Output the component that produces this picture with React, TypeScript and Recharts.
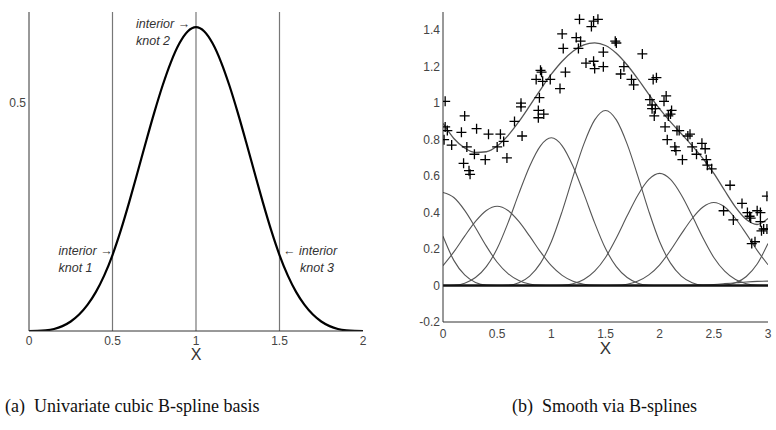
import React from 'react';
import { ComposedChart, Line, XAxis, YAxis, ReferenceLine, Scatter } from 'recharts';

const FONT = '"Liberation Sans", Arial, Helvetica, sans-serif';
const SERIF = '"Liberation Serif", "DejaVu Serif", "Times New Roman", Times, serif';

// ---------- panel (a): univariate cubic B-spline basis ----------
const basisX = [0, 0.05, 0.1, 0.15, 0.2, 0.25, 0.3, 0.35, 0.4, 0.45, 0.5, 0.55, 0.6, 0.65, 0.7, 0.75, 0.8, 0.85, 0.9, 0.95, 1.0,
  1.05, 1.1, 1.15, 1.2, 1.25, 1.3, 1.35, 1.4, 1.45, 1.5, 1.55, 1.6, 1.65, 1.7, 1.75, 1.8, 1.85, 1.9, 1.95, 2.0];
const basisY = [0, 0.0002, 0.0013, 0.0045, 0.0107, 0.0208, 0.036, 0.0572, 0.0853, 0.1215, 0.1667, 0.2212, 0.2827, 0.3482, 0.4147, 0.4792, 0.5387, 0.5902, 0.6307, 0.6572, 0.6667,
  0.6572, 0.6307, 0.5902, 0.5387, 0.4792, 0.4147, 0.3482, 0.2827, 0.2212, 0.1667, 0.1215, 0.0853, 0.0572, 0.036, 0.0208, 0.0107, 0.0045, 0.0013, 0.0002, 0];
const interiorKnots = [0.5, 1, 1.5];
const aXTicks = [0, 0.5, 1, 1.5, 2];
const aYTicks = [0.5];

// ---------- panel (b): smooth via B-splines ----------
const gridX = [0, 0.1, 0.2, 0.3, 0.4, 0.5, 0.6, 0.7, 0.8, 0.9, 1.0, 1.1, 1.2, 1.3, 1.4, 1.5, 1.6, 1.7, 1.8, 1.9, 2.0,
  2.1, 2.2, 2.3, 2.4, 2.5, 2.6, 2.7, 2.8, 2.9, 3.0];
const basisM05 = [0.27, 0.138, 0.058, 0.017, 0.002, 0, 0, 0, 0, 0, 0, 0, 0, 0, 0, 0, 0, 0, 0, 0, 0, 0, 0, 0, 0, 0, 0, 0, 0, 0, 0];
const basis00 = [0.51, 0.4825, 0.4121, 0.3172, 0.2162, 0.1275, 0.0653, 0.0275, 0.0082, 0.001, 0, 0, 0, 0, 0, 0, 0, 0, 0, 0, 0, 0, 0, 0, 0, 0, 0, 0, 0, 0, 0];
const basis05 = [0.1088, 0.1844, 0.2706, 0.3515, 0.4115, 0.435, 0.4115, 0.3515, 0.2706, 0.1844, 0.1088, 0.0557, 0.0235, 0.007, 0.0009, 0, 0, 0, 0, 0, 0, 0, 0, 0, 0, 0, 0, 0, 0, 0, 0];
const basis10 = [0, 0.0016, 0.013, 0.0437, 0.1037, 0.2025, 0.3434, 0.5038, 0.6545, 0.7663, 0.81, 0.7663, 0.6545, 0.5038, 0.3434, 0.2025, 0.1037, 0.0437, 0.013, 0.0016, 0, 0, 0, 0, 0, 0, 0, 0, 0, 0, 0];
const basis15 = [0, 0, 0, 0, 0, 0, 0.0019, 0.0154, 0.0518, 0.1229, 0.24, 0.407, 0.5971, 0.7757, 0.9082, 0.96, 0.9082, 0.7757, 0.5971, 0.407, 0.24, 0.1229, 0.0518, 0.0154, 0.0019, 0, 0, 0, 0, 0, 0];
const basis20 = [0, 0, 0, 0, 0, 0, 0, 0, 0, 0, 0, 0.0012, 0.0098, 0.0332, 0.0787, 0.1538, 0.2608, 0.3825, 0.4969, 0.5818, 0.615, 0.5818, 0.4969, 0.3825, 0.2608, 0.1538, 0.0787, 0.0332, 0.0098, 0.0012, 0];
const basis25 = [0, 0, 0, 0, 0, 0, 0, 0, 0, 0, 0, 0, 0, 0, 0, 0, 0.0009, 0.0073, 0.0246, 0.0582, 0.1138, 0.1929, 0.283, 0.3676, 0.4304, 0.455, 0.4304, 0.3676, 0.283, 0.1929, 0.1138];
const basis30 = [0, 0, 0, 0, 0, 0, 0, 0, 0, 0, 0, 0, 0, 0, 0, 0, 0, 0, 0, 0, 0, 0, 0.0004, 0.0013, 0.0031, 0.006, 0.0102, 0.0149, 0.0194, 0.0227, 0.024];
const basis35 = [0, 0, 0, 0, 0, 0, 0, 0, 0, 0, 0, 0, 0, 0, 0, 0, 0, 0, 0, 0, 0, 0, 0, 0, 0, 0, 0.0018, 0.0147, 0.0497, 0.1178, 0.23];
const fitted = [0.889, 0.8065, 0.754, 0.7297, 0.7336, 0.765, 0.8221, 0.8982, 0.9851, 1.0746, 1.1588, 1.2302, 1.2849, 1.3197, 1.3312, 1.3163,
  1.2736, 1.2092, 1.1316, 1.0486, 0.9688, 0.8976, 0.8321, 0.7668, 0.6962, 0.6148, 0.5211, 0.4304, 0.3619, 0.3346, 0.3678];
const obsX = [0.02, 0.01, 0.02, 0.04, 0.08, 0.17, 0.2, 0.19, 0.22, 0.24,
  0.25, 0.29, 0.31, 0.39, 0.42, 0.5, 0.53, 0.56, 0.59, 0.66,
  0.72, 0.72, 0.73, 0.86, 0.89, 0.88, 0.88, 0.9, 0.91, 0.92,
  0.93, 0.99, 1.1, 1.11, 1.08, 1.13, 1.23, 1.26, 1.25, 1.27,
  1.32, 1.37, 1.39, 1.43, 1.39, 1.4, 1.48, 1.48, 1.59, 1.6,
  1.64, 1.67, 1.74, 1.76, 1.84, 1.91, 1.93, 1.94, 1.97, 1.93,
  1.96, 1.95, 2.04, 2.06, 2.05, 2.07, 2.08, 2.11, 2.1, 2.16,
  2.14, 2.15, 2.18, 2.21, 2.26, 2.28, 2.3, 2.34, 2.39, 2.42,
  2.43, 2.44, 2.48, 2.65, 2.59, 2.68, 2.76, 2.81, 2.83, 2.84,
  2.85, 2.88, 2.9, 2.93, 2.93, 2.94, 2.96, 2.99, 2.99];
const obsY = [1.01, 0.8, 0.87, 0.85, 0.77, 0.84, 0.93, 0.67, 0.76, 0.63,
  0.61, 0.72, 0.86, 0.69, 0.83, 0.76, 0.83, 0.79, 0.7, 0.9,
  1.0, 0.98, 0.82, 1.13, 1.03, 0.96, 0.92, 1.18, 1.17, 1.12,
  0.94, 1.13, 1.38, 1.3, 1.08, 1.17, 1.36, 1.46, 1.3, 1.34,
  1.22, 1.42, 1.45, 1.46, 1.23, 1.19, 1.28, 1.2, 1.34, 1.33,
  1.16, 1.2, 1.13, 1.1, 1.27, 1.02, 0.97, 1.13, 1.14, 0.99,
  0.97, 0.93, 1.01, 1.04, 0.87, 0.8, 0.93, 0.96, 0.94, 0.85,
  0.76, 0.74, 0.85, 0.69, 0.82, 0.83, 0.76, 0.72, 0.78, 0.75,
  0.69, 0.66, 0.64, 0.55, 0.41, 0.36, 0.45, 0.4, 0.38, 0.37,
  0.23, 0.24, 0.41, 0.4, 0.35, 0.3, 0.31, 0.31, 0.49];
const bXTicks = [0, 0.5, 1, 1.5, 2, 2.5, 3];
const bYTicks = [-0.2, 0, 0.2, 0.4, 0.6, 0.8, 1, 1.2, 1.4];

const captionA = ['(a)', 'Univariate cubic B-spline basis'];
const captionB = ['(b)', 'Smooth via B-splines'];

// ---------- derived tables ----------
const aData = basisX.map((x, i) => ({ x, y: basisY[i] }));
const toSeries = (vals: number[]) => gridX.map((x, i) => ({ x, y: vals[i] }));
const bBasis = [basisM05, basis00, basis05, basis10, basis15, basis20, basis25, basis30, basis35].map(toSeries);
const bFit = toSeries(fitted);
const bObs = obsX.map((x, i) => ({ x, y: obsY[i] }));

const AXIS = '#333';
const tickStyle = { fill: '#444', fontSize: 12, fontFamily: FONT };

const knotLabel = (lines: string[], dxs: number[], dys: number[]) => (props: any) => {
  const vb = props.viewBox || {};
  const x = vb.x ?? 0;
  const y = vb.y ?? 0;
  return (
    <g>
      {lines.map((t, i) => (
        <text key={i} x={x + dxs[i]} y={y + dys[i]} fontStyle="italic" fontSize={12.5} fill="#333" fontFamily={FONT}>
          {t}
        </text>
      ))}
    </g>
  );
};

const knotLabels = [
  knotLabel(['interior \u2192', 'knot 1'], [-54, -54], [243, 260]),
  knotLabel(['interior \u2192', 'knot 2'], [-60, -60], [16, 33]),
  knotLabel(['\u2190 interior', 'knot 3'], [3.5, 20.5], [243, 260]),
];

const Plus = (props: any) => {
  const { cx, cy } = props;
  if (cx == null || cy == null) return null;
  return <path d={`M${cx - 5},${cy}h10M${cx},${cy - 5}v10`} stroke="#000" strokeWidth={1.3} fill="none" />;
};

function PanelA() {
  const xDomain: [number, number] = [0, 2];
  const yDomain: [number, number] = [0, 0.7];
  return (
    <ComposedChart width={390} height={370} margin={{ top: 12, right: 27, bottom: 9, left: 0 }}>
      <XAxis xAxisId="main" type="number" dataKey="x" domain={xDomain} ticks={aXTicks} interval={0} allowDataOverflow
        height={30} tickSize={0} tickMargin={5} tick={tickStyle} axisLine={{ stroke: AXIS }} tickLine={false}
        label={{ value: 'X', position: 'bottom', offset: -12, fontSize: 16, fill: '#333', fontFamily: FONT }} />
      <XAxis xAxisId="bm" type="number" dataKey="x" domain={xDomain} ticks={aXTicks} interval={0} allowDataOverflow mirror
        height={0} tickSize={4} tick={false} axisLine={false} tickLine={{ stroke: AXIS }} />
      <XAxis xAxisId="top" orientation="top" type="number" dataKey="x" domain={xDomain} ticks={aXTicks} interval={0} allowDataOverflow mirror
        height={0} tickSize={4} tick={false} axisLine={{ stroke: AXIS }} tickLine={{ stroke: AXIS }} />
      <YAxis yAxisId="main" type="number" domain={yDomain} ticks={aYTicks} interval={0} allowDataOverflow
        width={29} tickSize={0} tickMargin={3} tick={tickStyle} axisLine={{ stroke: AXIS }} tickLine={false} />
      <YAxis yAxisId="lm" type="number" domain={yDomain} ticks={aYTicks} interval={0} allowDataOverflow mirror
        width={0} tickSize={4} tick={false} axisLine={false} tickLine={{ stroke: AXIS }} />
      <YAxis yAxisId="right" orientation="right" type="number" domain={yDomain} ticks={aYTicks} interval={0} allowDataOverflow mirror
        width={0} tickSize={4} tick={false} axisLine={{ stroke: AXIS }} tickLine={{ stroke: AXIS }} />
      {interiorKnots.map((k, i) => (
        <ReferenceLine key={k} xAxisId="main" yAxisId="main" x={k} stroke="#777" strokeWidth={1.2} label={knotLabels[i]} />
      ))}
      <Line xAxisId="main" yAxisId="main" data={aData} dataKey="y" type="monotone" stroke="#000" strokeWidth={2.2}
        dot={false} activeDot={false} isAnimationActive={false} />
    </ComposedChart>
  );
}

function PanelB() {
  const xDomain: [number, number] = [0, 3];
  const yDomain: [number, number] = [-0.2, 1.5];
  return (
    <ComposedChart width={386} height={370} margin={{ top: 12, right: 8, bottom: 18, left: 0 }}>
      <XAxis xAxisId="main" type="number" dataKey="x" domain={xDomain} ticks={bXTicks} interval={0} allowDataOverflow
        height={30} tickSize={0} tickMargin={7} tick={tickStyle} axisLine={{ stroke: AXIS }} tickLine={false}
        label={{ value: 'X', position: 'bottom', offset: -10, fontSize: 17, fill: '#333', fontFamily: FONT }} />
      <XAxis xAxisId="bm" type="number" dataKey="x" domain={xDomain} ticks={bXTicks} interval={0} allowDataOverflow mirror
        height={0} tickSize={4} tick={false} axisLine={false} tickLine={{ stroke: AXIS }} />
      <XAxis xAxisId="top" orientation="top" type="number" dataKey="x" domain={xDomain} ticks={bXTicks} interval={0} allowDataOverflow mirror
        height={0} tickSize={4} tick={false} axisLine={{ stroke: AXIS }} tickLine={{ stroke: AXIS }} />
      <YAxis yAxisId="main" type="number" domain={yDomain} ticks={bYTicks} interval={0} allowDataOverflow
        width={53} tickSize={0} tickMargin={3} tick={tickStyle} axisLine={{ stroke: AXIS }} tickLine={false} />
      <YAxis yAxisId="lm" type="number" domain={yDomain} ticks={bYTicks} interval={0} allowDataOverflow mirror
        width={0} tickSize={4} tick={false} axisLine={false} tickLine={{ stroke: AXIS }} />
      <YAxis yAxisId="right" orientation="right" type="number" domain={yDomain} ticks={bYTicks} interval={0} allowDataOverflow mirror
        width={0} tickSize={4} tick={false} axisLine={{ stroke: AXIS }} tickLine={{ stroke: AXIS }} />
      {bBasis.map((d, i) => (
        <Line key={i} xAxisId="main" yAxisId="main" data={d} dataKey="y" type="monotone" stroke="#555" strokeWidth={1.1}
          dot={false} activeDot={false} isAnimationActive={false} />
      ))}
      <Line xAxisId="main" yAxisId="main" data={bFit} dataKey="y" type="monotone" stroke="#555" strokeWidth={1.3}
        dot={false} activeDot={false} isAnimationActive={false} />
      <ReferenceLine xAxisId="main" yAxisId="main" y={0} stroke="#111" strokeWidth={2.5} />
      <Scatter xAxisId="main" yAxisId="main" data={bObs} dataKey="y" shape={Plus} isAnimationActive={false} />
    </ComposedChart>
  );
}

export default function App() {
  return (
    <div style={{ position: 'absolute', left: 0, top: 0, width: 776, height: 430, background: '#fff', overflow: 'hidden' }}>
      <div style={{ position: 'absolute', left: 0, top: 0 }}>
        <PanelA />
      </div>
      <div style={{ position: 'absolute', left: 390, top: 0 }}>
        <PanelB />
      </div>
      <svg width={776} height={430} style={{ position: 'absolute', left: 0, top: 0, pointerEvents: 'none' }}>
        <text x={5} y={412} fontFamily={SERIF} fontSize={18} fill="#111">
          <tspan>{captionA[0]}</tspan>
          <tspan dx={9}>{captionA[1]}</tspan>
        </text>
        <text x={512} y={412} fontFamily={SERIF} fontSize={18} fill="#111">
          <tspan>{captionB[0]}</tspan>
          <tspan dx={9}>{captionB[1]}</tspan>
        </text>
      </svg>
    </div>
  );
}
